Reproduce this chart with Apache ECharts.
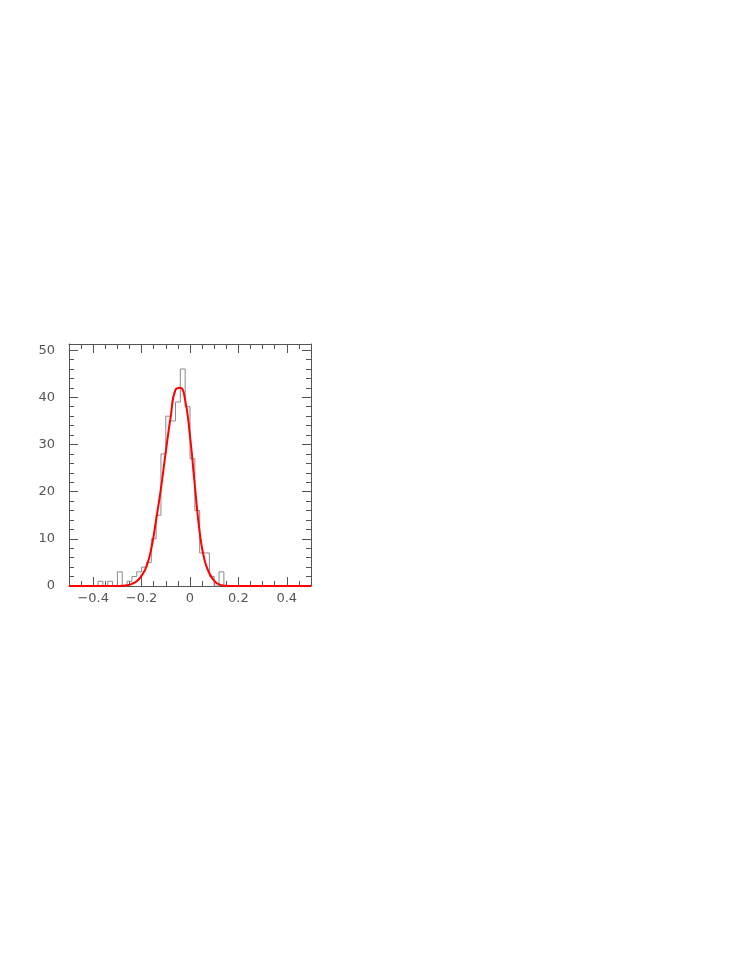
<!DOCTYPE HTML>
<html>
<head>
	<meta charset="utf-8"/>
	<title>Histogram with gaussian fit</title>
	<style>
		* { padding: 0px; margin: 0px; }
		body { background: #fff; }
		#chart { width: 747px; height: 967px; }
	</style>
</head>
<body>
	<div id="chart"></div>
	<script type="text/javascript" src="https://cdn.jsdelivr.net/npm/echarts@6.0.0/dist/echarts.min.js"></script>
	<script>
		// bin left edges (width 0.02) and counts
		const binEdges = [-0.50,-0.48,-0.46,-0.44,-0.42,-0.40,-0.38,-0.36,-0.34,-0.32,
			-0.30,-0.28,-0.26,-0.24,-0.22,-0.20,-0.18,-0.16,-0.14,-0.12,
			-0.10,-0.08,-0.06,-0.04,-0.02,0.00,0.02,0.04,0.06,0.08,
			0.10,0.12,0.14,0.16,0.18,0.20,0.22,0.24,0.26,0.28,
			0.30,0.32,0.34,0.36,0.38,0.40,0.42,0.44,0.46,0.48,0.50];
		const binCounts = [0,0,0,0,0,0,1,0,1,0,
			3,0,1,2,3,4,5,10,15,28,
			36,35,39,46,38,27,16,7,7,2,
			0,3,0,0,0,0,0,0,0,0,
			0,0,0,0,0,0,0,0,0,0,0];

		// fitted curve
		const fitX = [-0.50,-0.40,-0.34,-0.32,-0.30,-0.28,-0.26,-0.24,-0.22,-0.20,-0.18,-0.16,-0.14,-0.12,-0.10,-0.08,-0.06,
			-0.04,-0.02,0.00,0.02,0.04,0.06,0.08,0.10,0.12,0.14,0.16,0.18,0.20,0.30,0.40,0.50];
		const fitY = [0,0,0,0,0.01,0.04,0.15,0.45,1.0,2.2,4.1,7.9,14,20.7,28.5,35.8,41.6,
			42.0,39.4,31.8,21.3,11.4,5.5,2.7,1.1,0.35,0.08,0.02,0,0,0,0,0];

		const xMajor = [-0.4,-0.2,0,0.2,0.4];
		const yMajor = [0,10,20,30,40,50];

		const frameColor = '#555';
		const labelStyle = { color: '#555', fontFamily: 'DejaVu Sans', fontSize: 13 };

		function xAxisDef(pos, major) {
			let a = {
				type: 'value', position: pos, min: -0.5, max: 0.5,
				axisLine: { show: major, onZero: false, lineStyle: { color: frameColor, width: 1 } },
				splitLine: { show: false },
				axisTick: { inside: true, length: major ? 9 : 5, lineStyle: { color: frameColor } },
				axisLabel: { show: false }
			};
			if (major) {
				a.axisTick.customValues = xMajor;
				if (pos === 'bottom') {
					a.axisLabel = Object.assign({
						show: true, margin: 6, customValues: xMajor,
						formatter: v => (v < 0 ? '\u2212' : '') + Math.abs(v)
					}, labelStyle);
				}
			} else {
				a.interval = 0.05;
			}
			return a;
		}

		function yAxisDef(pos, major) {
			let a = {
				type: 'value', position: pos, min: 0, max: 51.3,
				interval: major ? 10 : 2,
				axisLine: { show: major, onZero: false, lineStyle: { color: frameColor, width: 1 } },
				splitLine: { show: false },
				axisTick: { inside: true, length: major ? 9 : 5, lineStyle: { color: frameColor } },
				axisLabel: { show: false }
			};
			if (major && pos === 'left') {
				a.axisLabel = Object.assign({
					show: true, margin: 14,
					formatter: v => (yMajor.indexOf(v) >= 0 ? String(v) : '')
				}, labelStyle);
			}
			return a;
		}

		let histData = binEdges.map((x, i) => [x, binCounts[i]]);
		let fitData = fitX.map((x, i) => [x, fitY[i]]);

		let myChart = echarts.init(document.getElementById('chart'), null, { renderer: 'canvas' });
		let option = {
			animation: false,
			grid: { left: 69, top: 344, width: 242, height: 242, containLabel: false },
			xAxis: [xAxisDef('bottom', true), xAxisDef('bottom', false), xAxisDef('top', true), xAxisDef('top', false)],
			yAxis: [yAxisDef('left', true), yAxisDef('left', false), yAxisDef('right', true), yAxisDef('right', false)],
			series: [{
				type: 'line',
				step: 'end',
				data: histData,
				symbol: 'none',
				lineStyle: { color: '#8a8a8a', width: 1 },
				z: 2
			}, {
				type: 'line',
				smooth: 0.5,
				data: fitData,
				symbol: 'none',
				lineStyle: { color: '#ff0000', width: 2 },
				z: 3
			}]
		};
		myChart.setOption(option, true);
	</script>
</body>
</html>
